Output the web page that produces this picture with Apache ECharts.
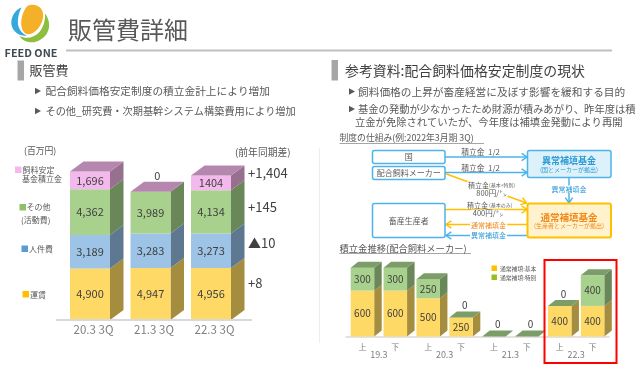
<!DOCTYPE html>
<html>
<head>
<meta charset="utf-8">
<style>
html, body { margin: 0; padding: 0; background: #fff; }
#main { width: 640px; height: 369px; }
</style>
<script src="https://cdn.jsdelivr.net/npm/echarts@6/dist/echarts.min.js"></script>
</head>
<body>
<div id="main"></div>
<script>
var myChart = echarts.init(document.getElementById('main'));
var FONT = '"Noto Sans CJK JP", "Noto Sans", sans-serif';

// 販管費 (百万円)
var periods = ['20.3 3Q', '21.3 3Q', '22.3 3Q'];
var freight = [4900, 4947, 4956];
var personnel = [3189, 3283, 3273];
var others = [4362, 3989, 4134];
var fund = [1696, 0, 1404];
var fundLabels = ['1,696', '0', '1404'];
var diffLabels = ['+1,404', '+145', '▲10', '+8'];

// 積立金推移
var halves = ['上', '下', '上', '下', '上', '下', '上', '下'];
var years = ['19.3', '20.3', '21.3', '22.3'];
var basic = [600, 600, 500, 250, 0, 0, 400, 400];
var special = [300, 300, 250, 0, 0, 0, 0, 400];

var colors = {
    freight: { front: '#FFD966', side: '#A58D3F' },
    personnel: { front: '#9DC3E6', side: '#5F7892' },
    others: { front: '#A9D18E', side: '#6A8759', top: '#7C9C68' },
    fund: { front: '#F4B9EC', side: '#98708F', top: '#B587AE' }
};

// ロゴの形
echarts.graphic.registerShape('logoOrange', echarts.graphic.extendPath('M30 5 C38 3.5 44.5 9 43 18 C41.5 27 33 36 26.5 34 C20.5 31.5 20 21 23 13.5 C25 8.5 27 5.5 30 5 Z'));
echarts.graphic.registerShape('logoBlue', echarts.graphic.extendPath('M20 8 C12.5 12 9 22 13 29 C16 34 22 36.5 27 35.5 C20.5 33 17 27 18 19 C18.5 15 19.5 11 21.5 7.5 Z'));
echarts.graphic.registerShape('logoGreen', echarts.graphic.extendPath('M45 13.5 C53 24 49 37.5 36.5 41.5 C29 44 22 40.5 19.5 36 C27 39.5 34 37.5 39 32.5 C43 28 45.5 21 45 13.5 Z'));

function withCommas(list) {
    return list.map(function (v) { return String(v).replace(/\B(?=(\d{3})+$)/g, ','); });
}

// 3Dっぽい積み上げ棒 (前面・側面・上面)
function boxSeries(name, xIdx, values, lowers, labels, color, opt) {
    return {
        type: 'custom',
        name: name,
        xAxisIndex: xIdx,
        yAxisIndex: xIdx,
        clip: false,
        encode: { x: 0, y: [1, 2] },
        data: values.map(function (v, i) { return [i, lowers[i], lowers[i] + v]; }),
        renderItem: function (params, api) {
            var cat = api.value(0);
            var cx = api.coord([cat, 0])[0];
            var yLow = api.coord([cat, api.value(1)])[1];
            var yHigh = api.coord([cat, api.value(2)])[1];
            var l = cx - opt.width / 2, r = cx + opt.width / 2;
            var kids = [];
            if (yLow - yHigh > 0) {
                kids.push({ type: 'polygon', shape: { points: [[r, yLow], [r + opt.dx, yLow - opt.dy], [r + opt.dx, yHigh - opt.dy], [r, yHigh]] }, style: { fill: color.side } });
                kids.push({ type: 'rect', shape: { x: l, y: yHigh, width: opt.width, height: yLow - yHigh }, style: { fill: color.front } });
            }
            if (opt.top) {
                kids.push({ type: 'polygon', shape: { points: [[l, yHigh], [l + opt.dx, yHigh - opt.dy], [r + opt.dx, yHigh - opt.dy], [r, yHigh]] }, style: { fill: color.top } });
            }
            var val = api.value(2) - api.value(1);
            if (val > 0) {
                kids.push({ type: 'text', style: { text: labels[params.dataIndex], x: cx, y: (yLow + yHigh) / 2, align: 'center', verticalAlign: 'middle', fill: '#404040', font: opt.fontSize + 'px ' + FONT } });
            } else if (opt.top) {
                kids.push({ type: 'text', style: { text: labels[params.dataIndex], x: cx + opt.dx / 2, y: yHigh - opt.dy - opt.gap, align: 'center', verticalAlign: 'middle', fill: '#404040', font: opt.fontSize + 'px ' + FONT } });
            }
            return { type: 'group', children: kids };
        }
    };
}

function addUp() {
    var lists = arguments;
    return lists[0].map(function (_, i) {
        var s = 0;
        for (var k = 0; k < lists.length; k++) s += lists[k][i];
        return s;
    });
}

var leftOpt = { width: 40, dx: 13.5, dy: 10, fontSize: 11, gap: 6 };
var leftTop = { width: 40, dx: 13.5, dy: 10, fontSize: 11, gap: 6, top: true };
var rightOpt = { width: 23.5, dx: 7.5, dy: 6, fontSize: 10, gap: 6 };
var rightTop = { width: 23.5, dx: 7.5, dy: 6, fontSize: 10, gap: 6, top: true };

// 補助の描画部品
function txt(text, x, y, size, fill, align, weight) {
    return {
        type: 'text', z: 20,
        style: { text: text, x: x, y: y, fill: fill || '#595959', align: align || 'left', verticalAlign: 'middle', font: (weight || 'normal') + ' ' + size + 'px ' + FONT }
    };
}
function whiteTxt(text, x, y, size, fill, align) {
    var t = txt(text, x, y, size, fill, align || 'center');
    t.style.backgroundColor = '#fff';
    t.style.padding = [0, 1];
    return t;
}
function box(x1, y1, x2, y2, stroke, fill, lw) {
    return {
        type: 'rect', z: 5,
        shape: { x: x1, y: y1, width: x2 - x1, height: y2 - y1, r: 2 },
        style: { fill: fill || '#fff', stroke: stroke, lineWidth: lw || 1.5 }
    };
}
function line(x1, y1, x2, y2, color, w) {
    return { type: 'line', z: 3, shape: { x1: x1, y1: y1, x2: x2, y2: y2 }, style: { stroke: color, lineWidth: w || 1 } };
}
function square(x, y, size, fill) {
    return { type: 'rect', z: 5, shape: { x: x, y: y, width: size, height: size }, style: { fill: fill } };
}
function arrow(x1, y1, x2, y2, color) {
    var a = Math.atan2(y2 - y1, x2 - x1), h = 6.5, s = 0.6;
    return [
        line(x1, y1, x2, y2, color, 1.5),
        {
            type: 'polyline', z: 3,
            shape: { points: [[x2 - h * Math.cos(a - s), y2 - h * Math.sin(a - s)], [x2, y2], [x2 - h * Math.cos(a + s), y2 - h * Math.sin(a + s)]] },
            style: { stroke: color, lineWidth: 1.5, fill: 'none' }
        }
    ];
}
function bullet(x, y) {
    return { type: 'polygon', z: 5, shape: { points: [[x, y - 3.2], [x + 6, y], [x, y + 3.2]] }, style: { fill: '#595959' } };
}

var BLUE = '#4DB3EA', ORANGE = '#FFC000', DEEP = '#F08A1D', BLUETEXT = '#2E9BD6';

var graphics = [
    // ロゴとタイトル
    { type: 'logoOrange', z: 5, style: { fill: '#F5B02A' } },
    { type: 'logoBlue', z: 5, style: { fill: '#36A9DC' } },
    { type: 'logoGreen', z: 5, style: { fill: '#8DBE3F' } },
    txt('FEED ONE', 31, 52.5, 10.8, '#3F4A52', 'center', 'bold'),
    txt('販管費詳細', 68, 30, 24, '#595959'),
    line(66, 50.5, 612, 50.5, '#BFBFBF', 2),
    line(319.5, 148, 319.5, 343, '#EDEDED', 1),

    // 左見出し
    { type: 'rect', z: 5, shape: { x: 17.5, y: 60.5, width: 6.5, height: 20 }, style: { fill: '#A6A6A6' } },
    txt('販管費', 29.5, 70.5, 13, '#404040'),
    bullet(35, 91), txt('配合飼料価格安定制度の積立金計上により増加', 45.5, 91, 10.7),
    bullet(35, 111), txt('その他_研究費・次期基幹システム構築費用により増加', 45.5, 111, 10.2),

    // 左グラフの注記と凡例
    txt('(百万円)', 24, 151, 8.8, '#595959'),
    txt('(前年同期差)', 235, 152.5, 9.8, '#595959'),
    square(15, 166.5, 6.5, '#F4B9EC'),
    txt('飼料安定', 22.5, 169.5, 8), txt('基金積立金', 22, 179, 8),
    square(19.5, 204, 6.5, '#8CC168'),
    txt('その他', 26.5, 207, 8), txt('(活動費)', 21, 220, 8),
    square(21.5, 245.5, 6.5, '#5B9BD5'),
    txt('人件費', 29, 249, 8),
    square(22.5, 291, 6.5, '#FFC000'),
    txt('運賃', 30, 294.5, 8),
    line(56, 320, 252, 320, '#D9D9D9', 2),

    // 右見出し
    { type: 'rect', z: 5, shape: { x: 331.5, y: 60, width: 6.5, height: 20.5 }, style: { fill: '#A6A6A6' } },
    txt('参考資料:配合飼料価格安定制度の現状', 345, 70.5, 13.9, '#404040'),
    bullet(349, 91.5), txt('飼料価格の上昇が畜産経営に及ぼす影響を緩和する目的', 358, 91.5, 10.7),
    bullet(349, 109), txt('基金の発動が少なかったため財源が積みあがり、昨年度は積', 358, 109, 10.3),
    txt('立金が免除されていたが、今年度は補填金発動により再開', 355, 122.5, 10.3),
    txt('制度の仕組み(例:2022年3月期 3Q)', 339.5, 138, 8.8),
    line(339.5, 143.5, 484, 143.5, '#A6A6A6', 1),

    // 仕組み図
    box(372.5, 150.5, 445, 163.5, BLUE), txt('国', 408.75, 157, 8, '#595959', 'center'),
    box(372.5, 166.5, 445, 179.5, BLUE), txt('配合飼料メーカー', 408.75, 173, 8, '#595959', 'center'),
    box(372.5, 203.5, 445, 237.5, BLUE), txt('畜産生産者', 408.75, 220.5, 8, '#595959', 'center'),
    box(527.5, 150.5, 611, 177.5, BLUE, '#DDF1FB'),
    txt('異常補填基金', 569, 161, 9, BLUETEXT, 'center', 'bold'),
    txt('(国とメーカーが拠出)', 569, 170, 6, BLUETEXT, 'center'),
    box(527.5, 203.5, 611, 237.5, ORANGE, '#FFF2CC', 2),
    txt('通常補填基金', 569, 217, 9.5, DEEP, 'center', 'bold'),
    txt('(生産者とメーカーが拠出)', 569, 226, 6, DEEP, 'center'),

    txt('積立金  1/2', 480.5, 152.5, 7.8, '#595959', 'center'),
    txt('積立金  1/2', 480.5, 168.5, 7.8, '#595959', 'center'),
    whiteTxt('積立金', 467, 185, 7, '#595959', 'left'),
    whiteTxt('(基本+特別)', 488, 185, 5, '#595959', 'left'),
    whiteTxt('800円/㌧', 491.5, 193, 7.5, '#595959'),
    whiteTxt('積立金', 466, 205.5, 7, '#595959', 'left'),
    whiteTxt('(基本のみ)', 488, 205.5, 5, '#595959', 'left'),
    whiteTxt('400円/㌧', 488, 213.5, 7.5, '#595959'),
    whiteTxt('通常補填金', 488.5, 225, 7, DEEP),
    whiteTxt('異常補填金', 488.5, 235.5, 7, BLUETEXT),
    whiteTxt('異常補填金', 569, 189, 7, BLUETEXT),

    // 積立金推移の見出しと凡例
    txt('積立金推移(配合飼料メーカー)', 339.5, 248.5, 9.3),
    line(339.5, 253.5, 471, 253.5, '#A6A6A6', 1),
    square(491.5, 265.5, 5.5, '#FFC000'), txt('通常補填:基本', 500, 268.5, 5.8),
    square(491.5, 274.5, 5.5, '#92C020'), txt('通常補填:特別', 500, 277.5, 5.8),

    // 22.3の赤枠
    { type: 'rect', z: 10, shape: { x: 544.5, y: 260, width: 72, height: 103 }, style: { fill: 'none', stroke: '#FF0000', lineWidth: 2 } }
]
    .concat(arrow(445, 157, 527, 157, BLUE))
    .concat(arrow(445, 172.5, 527, 172.5, BLUE))
    .concat(arrow(569, 177, 569, 203, BLUE))
    .concat(arrow(445, 173.5, 526.5, 203, ORANGE))
    .concat(arrow(445, 209.5, 527, 209.5, ORANGE))
    .concat(arrow(527, 224.5, 446, 224.5, ORANGE))
    .concat(arrow(527, 235.5, 446, 235.5, BLUE));

// 前年同期差
var diffY = [173, 207, 243, 283];
diffLabels.forEach(function (t, i) {
    graphics.push(txt(t, 248, diffY[i], 13, '#404040'));
});

var lowPersonnel = freight;
var lowOthers = addUp(freight, personnel);
var lowFund = addUp(freight, personnel, others);
var noLow = basic.map(function () { return 0; });

var option = {
    animation: false,
    textStyle: { fontFamily: FONT },
    grid: [
        { left: 59.75, top: 131, width: 181.5, height: 189 },
        { left: 346, top: 229.5, width: 263, height: 107 }
    ],
    xAxis: [
        {
            type: 'category', gridIndex: 0, data: periods,
            axisLine: { show: false }, axisTick: { show: false },
            axisLabel: { color: '#7F7F7F', fontSize: 11.5, margin: 4, padding: [0, 0, 0, 7] }
        },
        {
            type: 'category', gridIndex: 1, data: halves,
            axisLine: { lineStyle: { color: '#D9D9D9', width: 1.5 } }, axisTick: { show: false },
            axisLabel: { color: '#7F7F7F', fontSize: 8, margin: 6 }
        },
        {
            type: 'category', gridIndex: 1, position: 'bottom', offset: 14, data: years,
            axisLine: { show: false }, axisTick: { show: false },
            axisLabel: { color: '#7F7F7F', fontSize: 9, margin: 0 }
        }
    ],
    yAxis: [
        { type: 'value', gridIndex: 0, min: 0, max: 18000, show: false },
        { type: 'value', gridIndex: 1, min: 0, max: 1400, show: false }
    ],
    series: [
        boxSeries('運賃', 0, freight, fund.map(function () { return 0; }), withCommas(freight), colors.freight, leftOpt),
        boxSeries('人件費', 0, personnel, lowPersonnel, withCommas(personnel), colors.personnel, leftOpt),
        boxSeries('その他', 0, others, lowOthers, withCommas(others), colors.others, leftOpt),
        boxSeries('飼料安定基金積立金', 0, fund, lowFund, fundLabels, colors.fund, leftTop),
        boxSeries('通常補填:基本', 1, basic, noLow, basic.map(String), colors.freight, rightOpt),
        boxSeries('通常補填:特別', 1, special, basic, special.map(String), colors.others, rightTop)
    ],
    graphic: { elements: graphics }
};

myChart.setOption(option);
</script>
</body>
</html>
